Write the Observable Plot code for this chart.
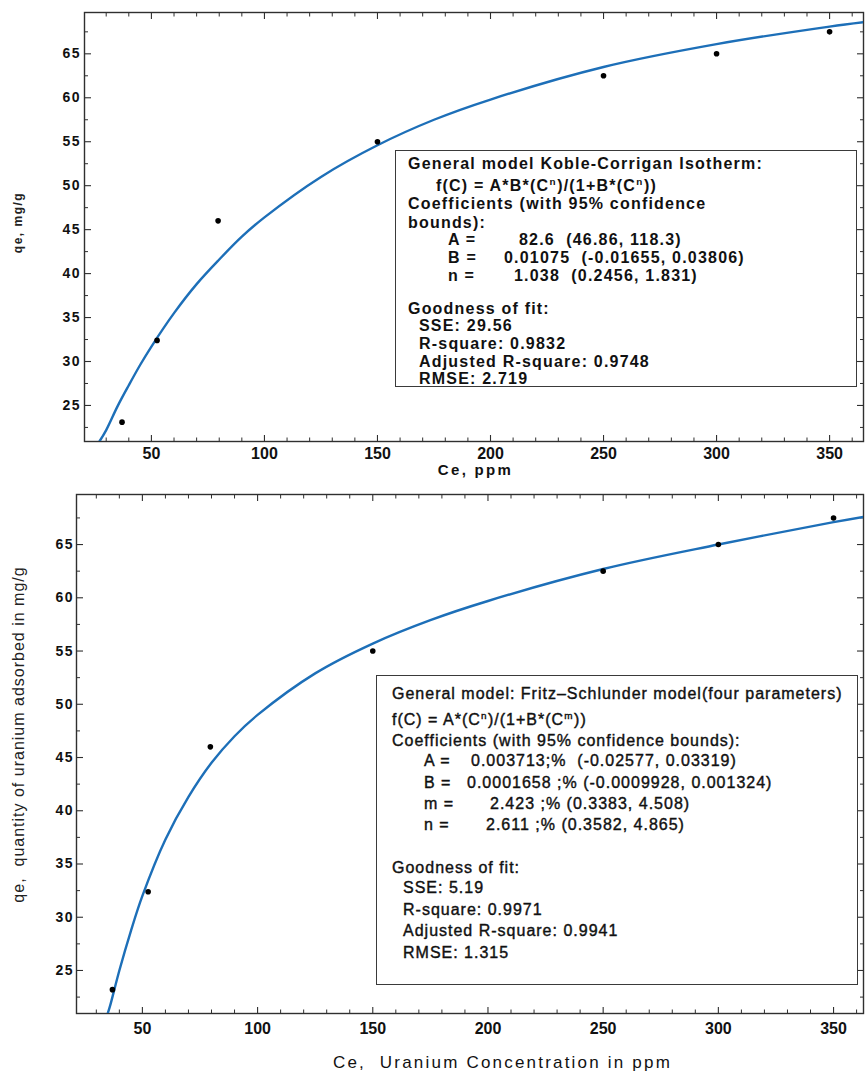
<!DOCTYPE html>
<html>
<head>
<meta charset="utf-8">
<script src="https://cdn.jsdelivr.net/npm/d3@7"></script>
<script src="https://cdn.jsdelivr.net/npm/@observablehq/plot@0.6"></script>
<style>
  body { margin: 0; background: #fff; }
  #wrap { position: relative; width: 865px; height: 1072px; font-family: "Liberation Sans", Arial, sans-serif; color: #111; }
  #wrap svg { display: block; }
  .box { position: absolute; border: 1.3px solid #3a3a3a; background: #fff; box-sizing: border-box; }
  .box div { position: absolute; white-space: pre; line-height: 1; transform: translateY(-50%); }
  .box sup { font-size: 0.62em; vertical-align: 0.6em; margin-left: 0.02em; margin-right: 0.05em; line-height: 0; }
  .boxTop div { font-size: 16px; font-weight: bold; letter-spacing: 1.2px; }
  .boxBottom div { font-size: 16px; font-weight: normal; letter-spacing: 1.0px; color: #111; -webkit-text-stroke: 0.4px #111; }
</style>
</head>
<body>
<div id="wrap"></div>
<script>
// ---------------- data ----------------
const ce = [37, 52.5, 79.5, 150, 250, 300, 350];
const qeTop = [23.1, 32.4, 46.0, 55.0, 62.5, 65.0, 67.5];
const qeBottom = [23.2, 32.4, 46.0, 55.0, 62.5, 65.0, 67.5];

// fitted curve (Koble-Corrigan, top panel)
const fitTopC = [27, 30, 35, 40, 45, 50, 60, 70, 80, 90, 100, 125, 150, 175, 200, 250, 300, 350, 365];
const fitTopQ = [20.9, 22.2, 24.9, 27.3, 29.6, 31.7, 35.5, 38.8, 41.6, 44.2, 46.4, 51.0, 54.6, 57.5, 59.8, 63.5, 66.1, 68.1, 68.6];

// fitted curve (Fritz-Schlunder, bottom panel)
const fitBotC = [35, 36, 40, 45, 50, 60, 70, 80, 90, 100, 125, 150, 175, 200, 250, 300, 350, 363];
const fitBotQ = [21.0, 21.7, 25.0, 28.7, 32.0, 37.3, 41.3, 44.5, 47.0, 49.0, 52.9, 55.7, 57.9, 59.7, 62.7, 65.0, 67.1, 67.6];

const xMajor = [50, 100, 150, 200, 250, 300, 350];
const xMinor = [30, 40, 60, 70, 80, 90, 110, 120, 130, 140, 160, 170, 180, 190, 210, 220, 230, 240, 260, 270, 280, 290, 310, 320, 330, 340, 360];
const yMajor = [25, 30, 35, 40, 45, 50, 55, 60, 65];
const yMinor = [22.5, 27.5, 32.5, 37.5, 42.5, 47.5, 52.5, 57.5, 62.5, 67.5];

const xDomainTop = [20.4, 365];
const yDomainTop = [20.9, 69.7];
const xDomainBot = [21.4, 363];
const yDomainBot = [20.96, 69.7];

const xTitleTop = "Ce, ppm";
const yTitleTop = "qe, mg/g";
const xTitleBot = "Ce,  Uranium Concentration in ppm";
const yTitleBot = "qe,  quantity of uranium adsorbed in mg/g";

const topBoxText = [
  "General model Koble-Corrigan Isotherm:",
  "f(C) = A*B*(C<sup>n</sup>)/(1+B*(C<sup>n</sup>))",
  "Coefficients (with 95% confidence",
  "bounds):",
  "A =", "82.6  (46.86, 118.3)",
  "B =", "0.01075  (-0.01655, 0.03806)",
  "n =", "1.038  (0.2456, 1.831)",
  "Goodness of fit:",
  "SSE: 29.56",
  "R-square: 0.9832",
  "Adjusted R-square: 0.9748",
  "RMSE: 2.719"
];
const bottomBoxText = [
  "General model: Fritz\u2013Schlunder model(four parameters)",
  "f(C) = A*(C<sup>n</sup>)/(1+B*(C<sup>m</sup>))",
  "Coefficients (with 95% confidence bounds):",
  "A =", "0.003713;%  (-0.02577, 0.03319)",
  "B =", "0.0001658 ;% (-0.0009928, 0.001324)",
  "m =", "2.423 ;% (0.3383, 4.508)",
  "n =", "2.611 ;% (0.3582, 4.865)",
  "Goodness of fit:",
  "SSE: 5.19",
  "R-square: 0.9971",
  "Adjusted R-square: 0.9941",
  "RMSE: 1.315"
];

// ---------------- layout ----------------
const topBoxLayout = [[12,13],[40,35],[12,53],[12,72],[52,89],[123,89],[52,107],[108,107],[52,125],[118,125],[12,158],[23,175],[23,193],[23,211],[23,228]];
const bottomBoxLayout = [[15,18],[15,44],[15,65],[47,85],[94,85],[47,107],[90,107],[47,128],[113,128],[47,149],[109,149],[15,192],[26,212],[26,234],[26,255],[26,277]];

const curveColor = "#1d6fb8";
const ink = "#2f2f2f";

function panel(o) {
  const pts = ce.map((c, i) => ({c, q: o.qe[i]}));
  const fit = o.fitC.map((c, i) => ({c, q: o.fitQ[i]}));
  const tickAxes = [];
  for (const anchor of ["bottom", "top"]) {
    tickAxes.push(Plot.axisX({ticks: xMajor, anchor, tickSize: -6, fill: "none", label: null, stroke: ink, strokeWidth: 1.1}));
    tickAxes.push(Plot.axisX({ticks: xMinor, anchor, tickSize: -3.5, fill: "none", label: null, stroke: ink, strokeWidth: 1}));
  }
  for (const anchor of ["left", "right"]) {
    tickAxes.push(Plot.axisY({ticks: yMajor, anchor, tickSize: -7, fill: "none", label: null, stroke: ink, strokeWidth: 1.1}));
    tickAxes.push(Plot.axisY({ticks: yMinor, anchor, tickSize: -4, fill: "none", label: null, stroke: ink, strokeWidth: 1}));
  }
  const svg = Plot.plot({
    width: 865, height: o.height,
    marginTop: o.mt, marginBottom: o.mb, marginLeft: o.ml, marginRight: 2,
    x: {domain: o.xd, label: null},
    y: {domain: o.yd, label: null},
    style: {background: "#fff", fontFamily: "'Liberation Sans', Arial, sans-serif", color: "#111", overflow: "visible"},
    marks: [
      ...tickAxes,
      Plot.axisX({ticks: xMajor, anchor: "bottom", tickSize: 0, tickPadding: o.xPad, label: null, fill: "#111", fontSize: 16, fontWeight: "bold"}),
      Plot.axisY({ticks: yMajor, anchor: "left", tickSize: 0, tickPadding: o.yPad, label: null, fill: "#111", fontSize: 14, fontWeight: "bold"}),
      Plot.frame({stroke: ink, strokeWidth: 1.4}),
      Plot.line(fit, {x: "c", y: "q", stroke: curveColor, strokeWidth: 2.4, curve: "catmull-rom", clip: true}),
      Plot.dot(pts, {x: "c", y: "q", r: 2.8, fill: "#000", stroke: "none"}),
      Plot.text([o.xTitle], {text: d => d, frameAnchor: "bottom", textAnchor: "middle", dx: o.xtdx, dy: o.xtdy, lineAnchor: "middle", fill: "#111"}),
      Plot.text([o.yTitle], {text: d => d, frameAnchor: "left", textAnchor: "middle", dx: o.ytdx, dy: o.ytdy, rotate: -90, lineAnchor: "middle", fill: "#222"})
    ]
  });
  const s = d3.select(svg);
  const xLabels = new Set(xMajor.map(String));
  const yLabels = new Set(yMajor.map(String));
  s.selectAll("text").each(function() {
    const t = this.textContent.trim(), sel = d3.select(this);
    const anchor = this.getAttribute("text-anchor") || (this.parentNode && this.parentNode.getAttribute("text-anchor"));
    if (t === o.xTitle) {
      sel.style("letter-spacing", o.xtLs).style("font-size", o.xtSize + "px").style("font-weight", o.xtWeight);
    } else if (t === o.yTitle) {
      sel.style("letter-spacing", o.ytLs).style("font-size", o.ytSize + "px").style("font-weight", o.ytWeight);
    } else if (anchor === "end" && yLabels.has(t)) {
      sel.style("font-size", "14px").style("font-weight", "bold").style("letter-spacing", "1.5px");
    } else if (xLabels.has(t)) {
      sel.style("font-size", "16px").style("font-weight", "bold");
    } else if (yLabels.has(t)) {
      sel.style("font-size", "14px").style("font-weight", "bold").style("letter-spacing", "1.5px");
    }
  });
  return svg;
}

const wrap = document.getElementById("wrap");

wrap.appendChild(panel({
  height: 487, mt: 12, mb: 46, ml: 84,
  xd: xDomainTop, yd: yDomainTop, qe: qeTop, fitC: fitTopC, fitQ: fitTopQ,
  xPad: 6, yPad: 3.5,
  xTitle: xTitleTop, xtdx: 1.5, xtdy: 29, xtSize: 15, xtWeight: "bold", xtLs: "2.3px",
  yTitle: yTitleTop, ytdx: -66, ytdy: -4.5, ytSize: 12, ytWeight: "bold", ytLs: "1.5px"
}));

wrap.appendChild(panel({
  height: 585, mt: 7, mb: 59, ml: 76,
  xd: xDomainBot, yd: yDomainBot, qe: qeBottom, fitC: fitBotC, fitQ: fitBotQ,
  xPad: 9.5, yPad: 2.5,
  xTitle: xTitleBot, xtdx: 32.5, xtdy: 49, xtSize: 17, xtWeight: "normal", xtLs: "2.2px",
  yTitle: yTitleBot, ytdx: -58, ytdy: -19.5, ytSize: 16, ytWeight: "normal", ytLs: "1px"
}));

function addBox(cls, left, top, w, h, lines, layout) {
  const box = document.createElement("div");
  box.className = "box " + cls;
  Object.assign(box.style, {left: left + "px", top: top + "px", width: w + "px", height: h + "px"});
  lines.forEach((html, i) => {
    const d = document.createElement("div");
    d.innerHTML = html;
    d.style.left = layout[i][0] + "px";
    d.style.top = layout[i][1] + "px";
    box.appendChild(d);
  });
  wrap.appendChild(box);
}
addBox("boxTop", 395, 150, 462, 237, topBoxText, topBoxLayout);
addBox("boxBottom", 376, 675, 482, 310, bottomBoxText, bottomBoxLayout);
</script>
</body>
</html>
